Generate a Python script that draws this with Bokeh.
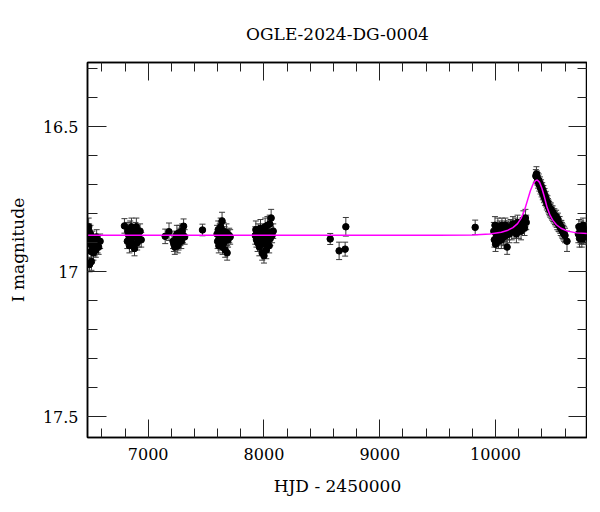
from bokeh.plotting import figure
from bokeh.models import (LinearAxis, SingleIntervalTicker, ColumnDataSource,
                          Whisker, TeeHead, Range1d, CustomJSTickFormatter)
from bokeh.embed import file_html
from bokeh.resources import INLINE

# ---- data (HJD-2450000, I mag, error) per observing season ----
s1_t = [6482, 6486, 6490, 6494, 6498, 6502, 6506, 6510, 6514, 6518, 6522, 6527, 6532, 6537, 6542, 6548, 6555, 6563, 6572, 6585]
s1_m = [16.885, 16.845, 16.86, 16.975, 16.905, 16.87, 16.93, 16.965, 16.90, 16.885, 16.915, 16.935, 16.895, 16.92, 16.905, 16.925, 16.88, 16.91, 16.915, 16.895]
s1_e = [0.025, 0.03, 0.025, 0.025, 0.025, 0.03, 0.025, 0.03, 0.025, 0.025, 0.025, 0.025, 0.025, 0.025, 0.03, 0.025, 0.025, 0.025, 0.025, 0.025]

s2_t = [6795, 6820, 6826, 6832, 6838, 6845, 6850, 6856, 6862, 6868, 6875, 6882, 6890, 6898, 6905, 6912, 6920, 6930, 6940]
s2_m = [16.842, 16.895, 16.86, 16.875, 16.91, 16.855, 16.89, 16.845, 16.905, 16.87, 16.88, 16.92, 16.86, 16.845, 16.90, 16.875, 16.885, 16.86, 16.89]
s2_e = [0.025, 0.025, 0.03, 0.03, 0.025, 0.03, 0.025, 0.03, 0.025, 0.025, 0.03, 0.025, 0.03, 0.03, 0.025, 0.025, 0.03, 0.025, 0.025]

s3_t = [7147, 7180, 7215, 7222, 7230, 7240, 7248, 7255, 7262, 7270, 7278, 7286, 7294, 7300, 7306, 7315]
s3_m = [16.878, 16.862, 16.895, 16.905, 16.915, 16.885, 16.87, 16.91, 16.90, 16.865, 16.88, 16.895, 16.86, 16.875, 16.843, 16.88]
s3_e = [0.025, 0.03, 0.025, 0.025, 0.025, 0.025, 0.03, 0.025, 0.025, 0.025, 0.03, 0.025, 0.025, 0.025, 0.025, 0.025]

s4_t = [7469]
s4_m = [16.856]
s4_e = [0.02]

s5_t = [7595, 7600, 7605, 7610, 7614, 7618, 7622, 7626, 7630, 7634, 7638, 7642, 7646, 7650, 7655, 7660, 7665, 7670, 7676, 7682, 7690, 7700, 7708]
s5_m = [16.87, 16.895, 16.855, 16.91, 16.88, 16.865, 16.90, 16.845, 16.89, 16.875, 16.825, 16.915, 16.88, 16.86, 16.90, 16.87, 16.925, 16.885, 16.865, 16.935, 16.89, 16.875, 16.88]
s5_e = [0.03, 0.025, 0.03, 0.025, 0.025, 0.03, 0.025, 0.03, 0.025, 0.025, 0.03, 0.025, 0.025, 0.03, 0.025, 0.025, 0.025, 0.025, 0.03, 0.025, 0.025, 0.025, 0.025]

s6_t = [7925, 7930, 7935, 7940, 7945, 7950, 7955, 7960, 7965, 7970, 7975, 7980, 7985, 7990, 7995, 8000, 8005, 8010, 8015, 8020, 8025, 8030, 8035, 8040, 8045, 8050, 8055, 8062, 8070, 8080]
s6_m = [16.875, 16.855, 16.89, 16.87, 16.90, 16.86, 16.885, 16.915, 16.875, 16.85, 16.905, 16.88, 16.935, 16.86, 16.895, 16.945, 16.87, 16.845, 16.905, 16.925, 16.88, 16.84, 16.895, 16.865, 16.91, 16.835, 16.885, 16.815, 16.875, 16.86]
s6_e = [0.03, 0.03, 0.025, 0.025, 0.03, 0.025, 0.025, 0.03, 0.025, 0.03, 0.025, 0.03, 0.025, 0.025, 0.03, 0.025, 0.025, 0.03, 0.025, 0.03, 0.025, 0.03, 0.025, 0.03, 0.025, 0.03, 0.025, 0.03, 0.025, 0.025]

s7_t = [8572, 8649, 8701, 8707]
s7_m = [16.887, 16.928, 16.922, 16.845]
s7_e = [0.019, 0.03, 0.024, 0.032]

s8_t = [9824]
s8_m = [16.847]
s8_e = [0.025]

s9_t = [9985, 9990, 9995, 10000, 10005, 10010, 10015, 10020, 10025, 10030, 10035, 10040, 10045, 10050, 10055, 10060, 10065, 10070, 10075, 10080, 10085, 10090, 10100, 10105, 10110, 10120, 10130, 10140, 10150, 10160, 10170, 10180, 10190, 10200, 10210, 10220, 10230, 10240, 10250, 10258, 10265]
s9_m = [16.86, 16.89, 16.84, 16.905, 16.87, 16.855, 16.88, 16.845, 16.895, 16.865, 16.85, 16.875, 16.86, 16.89, 16.84, 16.87, 16.855, 16.88, 16.85, 16.865, 16.84, 16.875, 16.915, 16.86, 16.85, 16.87, 16.845, 16.86, 16.835, 16.855, 16.84, 16.87, 16.83, 16.855, 16.845, 16.86, 16.84, 16.82, 16.85, 16.815, 16.83]
s9_e = [0.03, 0.025, 0.03, 0.025, 0.03, 0.025, 0.03, 0.03, 0.025, 0.03, 0.025, 0.03, 0.025, 0.03, 0.025, 0.03, 0.025, 0.03, 0.025, 0.03, 0.025, 0.03, 0.025, 0.03, 0.025, 0.03, 0.025, 0.03, 0.025, 0.03, 0.025, 0.03, 0.025, 0.03, 0.025, 0.03, 0.025, 0.03, 0.025, 0.03, 0.025]

s10_t = [10348, 10353, 10358, 10363, 10368, 10373, 10378, 10383, 10388, 10393, 10398, 10403, 10408, 10413, 10418, 10423, 10428, 10433, 10438, 10443, 10448, 10453, 10458, 10463, 10468, 10473, 10478, 10483, 10488, 10493, 10498, 10503, 10508, 10513, 10518, 10523, 10528, 10533, 10538, 10543, 10548, 10553, 10558, 10563, 10568, 10573, 10578, 10585, 10592, 10600, 10617]
s10_m = [16.67, 16.663, 16.675, 16.68, 16.69, 16.685, 16.70, 16.695, 16.71, 16.705, 16.72, 16.715, 16.73, 16.725, 16.74, 16.735, 16.75, 16.745, 16.755, 16.765, 16.76, 16.77, 16.775, 16.78, 16.785, 16.79, 16.785, 16.795, 16.80, 16.795, 16.805, 16.81, 16.805, 16.815, 16.82, 16.81, 16.825, 16.83, 16.82, 16.835, 16.84, 16.835, 16.845, 16.85, 16.845, 16.855, 16.86, 16.865, 16.87, 16.875, 16.895]
s10_e = [0.022, 0.025, 0.022, 0.022, 0.022, 0.022, 0.022, 0.022, 0.022, 0.022, 0.022, 0.022, 0.022, 0.022, 0.022, 0.022, 0.022, 0.022, 0.022, 0.022, 0.022, 0.022, 0.022, 0.022, 0.022, 0.022, 0.022, 0.022, 0.022, 0.022, 0.022, 0.022, 0.022, 0.022, 0.022, 0.022, 0.022, 0.025, 0.022, 0.025, 0.022, 0.025, 0.022, 0.025, 0.022, 0.025, 0.025, 0.025, 0.025, 0.025, 0.035]

s11_t = [10715, 10720, 10725, 10730, 10735, 10740, 10745, 10750, 10755, 10760, 10765, 10770, 10775, 10780, 10786, 10792]
s11_m = [16.87, 16.845, 16.885, 16.86, 16.875, 16.85, 16.89, 16.865, 16.84, 16.88, 16.86, 16.875, 16.855, 16.87, 16.86, 16.88]
s11_e = [0.03, 0.025, 0.03, 0.025, 0.03, 0.025, 0.025, 0.03, 0.025, 0.025, 0.03, 0.025, 0.025, 0.03, 0.025, 0.025]

# ---- model curve ----
model_t = [6400, 9500, 9800, 9950, 10050, 10100, 10150, 10190, 10220, 10250, 10275, 10300, 10325, 10345, 10360, 10380, 10400, 10420, 10445, 10470, 10495, 10525, 10565, 10620, 10700, 10850]
model_m = [16.874, 16.874, 16.873, 16.870, 16.864, 16.858, 16.848, 16.834, 16.816, 16.788, 16.755, 16.722, 16.697, 16.686, 16.684, 16.692, 16.712, 16.740, 16.778, 16.805, 16.823, 16.838, 16.850, 16.860, 16.866, 16.869]

x_major = 1000
y_major = 0.5
y_tick_labels = {16.5: "16.5", 17: "17", 17.5: "17.5"}

title_text = "OGLE-2024-DG-0004"
x_label = "HJD - 2450000"
y_label = "I magnitude"

# ---- assemble ----
seasons = [(s1_t, s1_m, s1_e), (s2_t, s2_m, s2_e), (s3_t, s3_m, s3_e), (s4_t, s4_m, s4_e),
           (s5_t, s5_m, s5_e), (s6_t, s6_m, s6_e), (s7_t, s7_m, s7_e), (s8_t, s8_m, s8_e),
           (s9_t, s9_m, s9_e), (s10_t, s10_m, s10_e), (s11_t, s11_m, s11_e)]
T, M, E = [], [], []
for st, sm, se in seasons:
    T += st; M += sm; E += se
src = ColumnDataSource(dict(t=T, m=M, lo=[m - e for m, e in zip(M, E)], up=[m + e for m, e in zip(M, E)]))

FONT = "DejaVu Serif"

p = figure(frame_width=500, frame_height=375, output_backend="svg", toolbar_location=None,
           x_range=Range1d(6476, 10794), y_range=Range1d(17.571, 16.279),
           min_border_left=87, min_border_top=62, min_border_right=0, min_border_bottom=10,
           background_fill_color="white", border_fill_color="white")
p.xgrid.visible = False
p.ygrid.visible = False
p.outline_line_color = "black"
p.outline_line_width = 1.5

p.title.text = title_text
p.title.align = "center"
p.title.vertical_align = "middle"
p.title.text_font = FONT
p.title.text_font_size = "17px"
p.title.text_font_style = "normal"
p.title.text_color = "black"
p.title.standoff = 36

blank = CustomJSTickFormatter(code="return '';")

def style_axis(ax, ticker, labels=True, tin=18, mtin=9):
    ax.ticker = ticker
    ax.major_tick_in = tin
    ax.major_tick_out = 0
    ax.minor_tick_in = mtin
    ax.minor_tick_out = 0
    ax.major_tick_line_color = "#222222"
    ax.minor_tick_line_color = "#222222"
    ax.axis_line_color = "black"
    ax.axis_line_width = 1.5
    if labels:
        ax.major_label_text_font = FONT
        ax.major_label_text_font_size = "16px"
        ax.major_label_text_color = "black"
        ax.axis_label_text_font = FONT
        ax.axis_label_text_font_size = "17px"
        ax.axis_label_text_font_style = "normal"
        ax.axis_label_text_color = "black"
    else:
        ax.formatter = blank
        ax.major_label_standoff = 0

xb = p.xaxis[0]
style_axis(xb, SingleIntervalTicker(interval=x_major, num_minor_ticks=5), tin=18, mtin=9)
xb.axis_label = x_label
xb.major_label_standoff = 10
xb.axis_label_standoff = 13

yl = p.yaxis[0]
style_axis(yl, SingleIntervalTicker(interval=y_major, num_minor_ticks=5), tin=19, mtin=10)
yl.axis_label = y_label
yl.major_label_overrides = y_tick_labels
yl.major_label_standoff = 9
yl.axis_label_standoff = 12

xt = LinearAxis()
style_axis(xt, SingleIntervalTicker(interval=x_major, num_minor_ticks=5), labels=False, tin=18, mtin=9)
p.add_layout(xt, "above")
yr = LinearAxis()
style_axis(yr, SingleIntervalTicker(interval=y_major, num_minor_ticks=5), labels=False, tin=19, mtin=10)
p.add_layout(yr, "right")

wh = Whisker(source=src, base="t", upper="up", lower="lo", dimension="height",
             line_color="#3a3a3a", line_width=1,
             upper_head=TeeHead(size=6, line_color="#3a3a3a", line_width=1),
             lower_head=TeeHead(size=6, line_color="#3a3a3a", line_width=1))
p.add_layout(wh)
p.scatter("t", "m", source=src, size=6.5, color="black")
p.line(model_t, model_m, line_color="#ff00ff", line_width=1.5)

open("out.html", "w").write(file_html(p, INLINE))
